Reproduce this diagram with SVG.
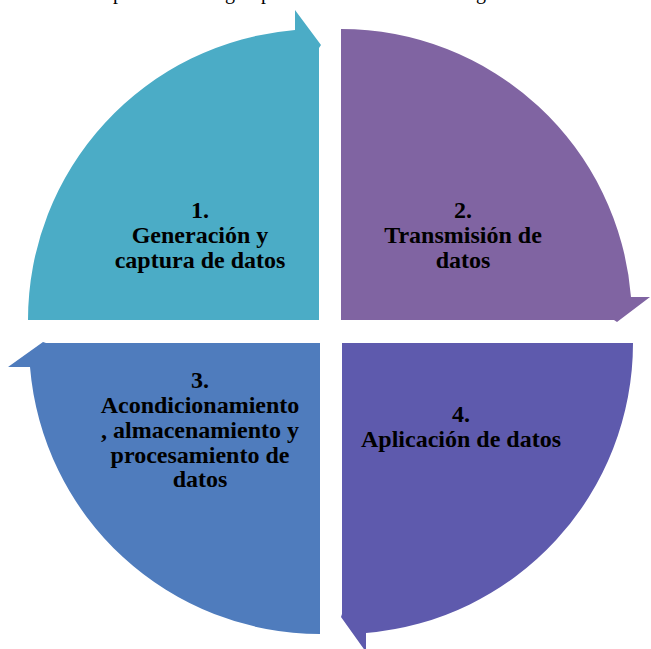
<svg xmlns="http://www.w3.org/2000/svg" width="651" height="649" viewBox="0 0 651 649">
<style>
.lbl{font-family:"Liberation Serif","Times New Roman",serif;font-weight:bold;font-size:24px;fill:#000;text-anchor:middle}
.cap{font-family:"Liberation Serif","Times New Roman",serif;font-size:20px;fill:#000}
</style>
<rect width="651" height="649" fill="#fff"/>
<g id="caption">
<text class="cap" x="113" y="-1">p</text>
<text class="cap" x="225" y="-1">g</text>
<text class="cap" x="261" y="-1">p</text>
<text class="cap" x="476" y="-1">g</text>
</g>
<g id="connectors"></g>
<g id="node1">
<path d="M319 320 L28 320 A291 291 0 0 1 295 30 L295 10 L321 45 L319 48 Z" fill="#4BACC6"/>
<text class="lbl" x="200" y="218">1.</text>
<text class="lbl" x="200" y="243">Generación y</text>
<text class="lbl" x="200" y="268">captura de datos</text>
</g>
<g id="node2">
<path d="M341 320 L341 29 A291 291 0 0 1 631 297 L650 297 L617 322 L614 320 Z" fill="#8064A2"/>
<text class="lbl" x="463" y="218">2.</text>
<text class="lbl" x="463" y="243">Transmisión de</text>
<text class="lbl" x="463" y="268">datos</text>
</g>
<g id="node3">
<path d="M320 343 L320 634 A291 291 0 0 1 30 367 L8 367 L43 342 L46 343 Z" fill="#4F7CBD"/>
<text class="lbl" x="200" y="388">3.</text>
<text class="lbl" x="200" y="413">Acondicionamiento</text>
<text class="lbl" x="200" y="438">, almacenamiento y</text>
<text class="lbl" x="200" y="463">procesamiento de</text>
<text class="lbl" x="200" y="487">datos</text>
</g>
<g id="node4">
<path d="M342 343 L633 343 A291 291 0 0 1 366 633 L366 652 L341 617 L342 614 Z" fill="#5E5AAD"/>
<text class="lbl" x="461" y="422">4.</text>
<text class="lbl" x="461" y="447">Aplicación de datos</text>
</g>
</svg>
